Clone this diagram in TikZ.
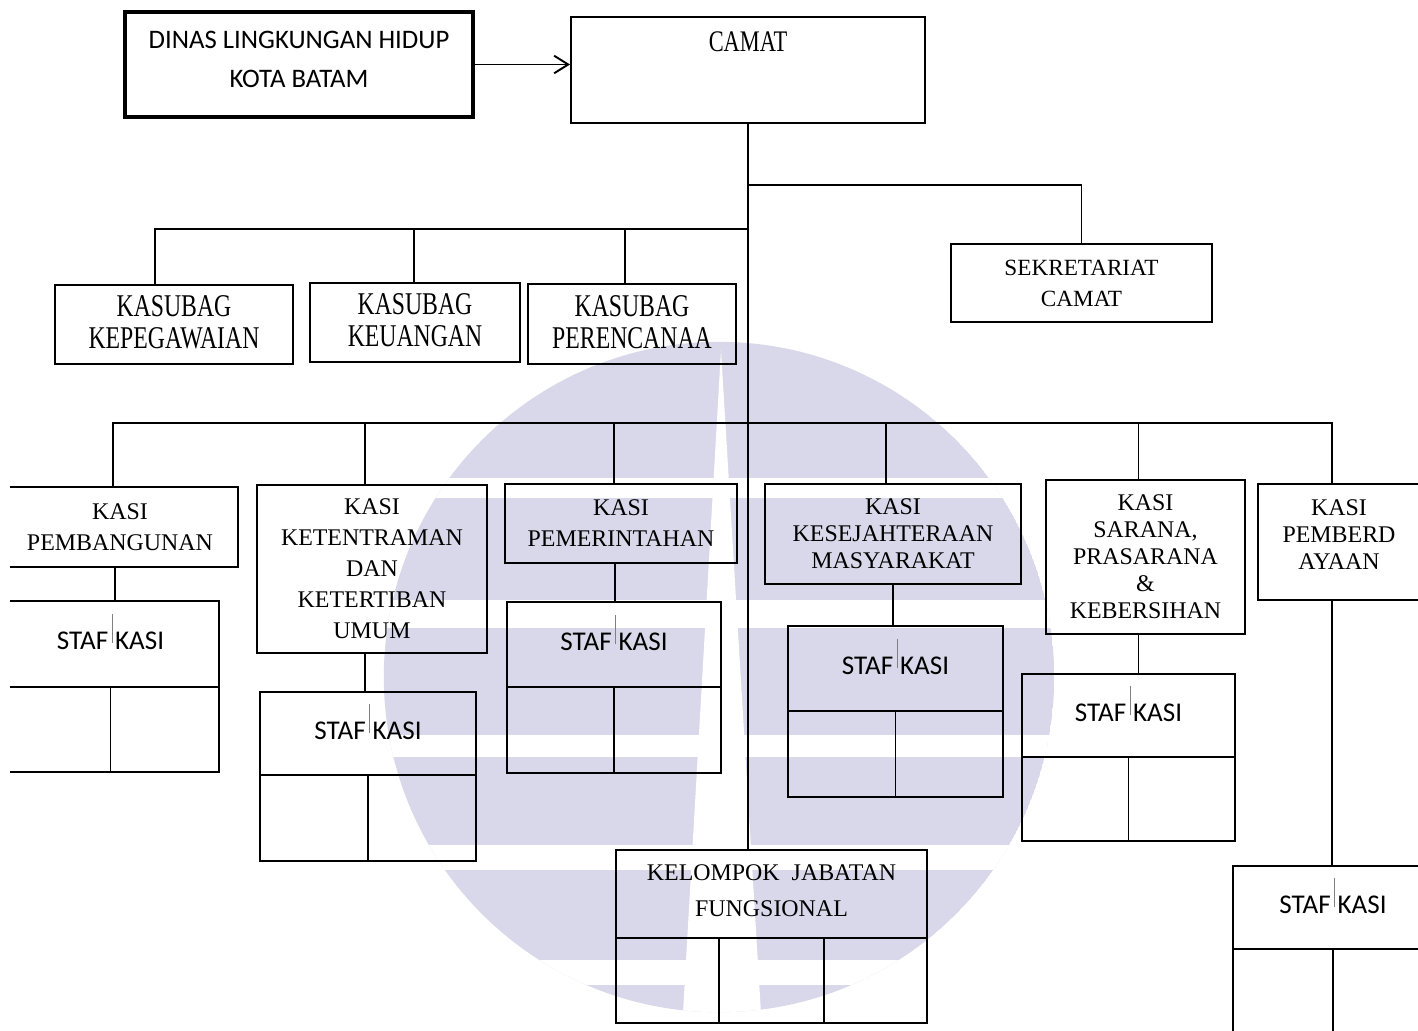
\documentclass[tikz,border=0pt]{standalone}
\usepackage{fontspec}
\setmainfont{Liberation Serif}
\newfontfamily\narrowserif[FakeStretch=0.75]{Liberation Serif}
\newfontfamily\calfont{Carlito}
\usetikzlibrary{calc,fit,arrows.meta}
\definecolor{wmlav}{RGB}{216,216,234}
\newcommand{\stafkasi}{STAF\hspace{0.12em}{\color{gray}\rule[1.9pt]{0.25pt}{8.3pt}}\hspace{0.1em}KASI}

\begin{document}
\begin{tikzpicture}[x=0.01cm,y=-0.01cm]

\tikzset{box/.style={draw, line width=0.55pt, inner sep=0pt},
  txt/.style={inner sep=0pt, align=center},
  kasitxt/.style={txt, font=\fontsize{6.8}{8.8}\selectfont},
  tighttxt/.style={txt, font=\fontsize{6.8}{7.7}\selectfont},
  subtxt/.style={txt, font=\narrowserif\fontsize{9}{9.1}\selectfont, yshift=0.55pt},
  staftxt/.style={txt, font=\calfont\fontsize{7.7}{9}\selectfont, yshift=3.4pt},
  link/.style={line width=0.55pt}}

\useasboundingbox (0,0) rectangle (1418,1030);
\clip (10,0) rectangle (1418,1030);

% watermark
\begin{scope}
\clip (719,677) circle[radius=3.35cm];
\fill[wmlav] (719,677) circle[radius=3.35cm];
\foreach \ya/\yb in {478/498, 600/628, 735/757, 845/870, 960/985}
  \fill[white] (370,\ya) rectangle (1070,\yb);
\fill[white] (721,350) -- (682,1030) -- (762,1030) -- cycle;
\end{scope}

% top
\node[box, line width=1.2pt, fit={(125,12) (473,117)}] (dinas) {};
\node[txt, font=\calfont\fontsize{7.6}{11.1}\selectfont, yshift=1.4pt] (dinastxt) at (dinas) {DINAS LINGKUNGAN HIDUP\\KOTA BATAM};
\node[box, fit={(571,17) (925,123)}] (camat) {};
\node[font=\narrowserif\fontsize{8.5}{9}\selectfont] (camattxt) at ($(camat.north)+(0,26)$) {CAMAT};
\draw[link, -{Straight Barb[length=4pt,width=5pt]}] (dinas.east) -- (dinas.east -| camat.west);

\node[box, fit={(951,244) (1212,322)}] (sekr) {};
\node[txt, font=\fontsize{6.6}{8.8}\selectfont] (sekrtxt) at (sekr) {SEKRETARIAT\\CAMAT};

% kasubag
\node[box, fit={(55,285) (293,364)}] (kepeg) {};
\node[box, fit={(310,283) (520,362)}] (keu) {};
\node[box, fit={(528,284) (736,364)}] (peren) {};
\node[subtxt] (kepegtxt) at (kepeg) {KASUBAG\\KEPEGAWAIAN};
\node[subtxt] (keutxt) at (keu) {KASUBAG\\KEUANGAN};
\node[subtxt] (perentxt) at (peren) {KASUBAG\\PERENCANAA};

% kasi
\node[box, fit={(2,487) (238,567)}] (kpemb) {};
\node[box, fit={(257,485) (487,653)}] (kketen) {};
\node[box, fit={(505,484) (737,563)}] (kpemr) {};
\node[box, fit={(765,484) (1021,584)}] (kkes) {};
\node[box, fit={(1046,480) (1245,634)}] (ksar) {};
\node[box, fit={(1258,484) (1420,600)}] (kpembd) {};
\node[kasitxt] (kpembtxt) at (kpemb) {KASI\\PEMBANGUNAN};
\node[kasitxt] (kketentxt) at (kketen) {KASI\\KETENTRAMAN\\DAN\\KETERTIBAN\\UMUM};
\node[kasitxt] (kpemrtxt) at (kpemr) {KASI\\PEMERINTAHAN};
\node[tighttxt] (kkestxt) at (kkes) {KASI\\KESEJAHTERAAN\\MASYARAKAT};
\node[tighttxt] (ksartxt) at (ksar) {KASI\\SARANA,\\PRASARANA\\\&\\KEBERSIHAN};
\node[tighttxt, yshift=2.15pt] (kpembdtxt) at (kpembd) {KASI\\PEMBERD\\AYAAN};

% staf kasi
\foreach \s/\xa/\ya/\xb/\ym/\yb in {stafa/2/601/219/687/772, stafb/260/692/476/775/861,
  stafc/507/602/721/687/773, stafd/788/626/1003/711/797,
  stafe/1022/674/1235/757/841, staff/1233/866/1433/949/1045}
{
\node[box, fit={(\xa,\ya) (\xb,\ym)}] (\s) {};
\node[staftxt] (\s txt) at (\s) {\stafkasi};
\node[box, fit={(\xa,\ym) (\xb,\yb)}] (\s low) {};
\draw[link] (\s low.north) -- (\s low.south);
}

% fungsional
\node[box, fit={(616,850) (927,938)}] (kfung) {};
\node[txt, font=\fontsize{6.8}{10.2}\selectfont, yshift=0.9pt] (kfungtxt) at (kfung) {KELOMPOK\hspace{0.5em}JABATAN\\FUNGSIONAL};
\node[box, fit={(616,938) (927,1023)}] (kfunglow) {};
\foreach \f in {1/3,2/3}
  \draw[link] ($(kfunglow.north west)!\f!(kfunglow.north east)$) -- ($(kfunglow.south west)!\f!(kfunglow.south east)$);

% lines
\coordinate (sekbus) at (748,185);
\coordinate (subbus) at (748,229);
\coordinate (kasibus) at (748,423);
\draw[link] (camat.south) -- (camat.south |- kfung.north);
\draw[link] (sekbus) -| (sekr.north);

\coordinate (t) at ($(kepeg.north)+(-19,0)$);
\draw[link] (t) |- (subbus);
\foreach \n/\dx in {keu/-1, peren/-7}
{
\coordinate (t) at ($(\n.north)+(\dx,0)$);
\draw[link] (t) -- (t |- subbus);
}

\coordinate (t) at ($(kpemb.north)+(-7,0)$);
\coordinate (u) at ($(kpembd.north)+(-7,0)$);
\draw[link] (t) -- (t |- kasibus) -- (u |- kasibus) -- (u);
\foreach \n in {kketen,kpemr,kkes,ksar}
{
\coordinate (t) at ($(\n.north)+(-7,0)$);
\draw[link] (t) -- (t |- kasibus);
}

\foreach \k/\s/\dx in {kpemb/stafa/-5, kketen/stafb/-7, kpemr/stafc/-6, kkes/stafd/0, ksar/stafe/-7, kpembd/staff/-7}
{
\coordinate (t) at ($(\k.south)+(\dx,0)$);
\draw[link] (t) -- (t |- \s.north);
}

\end{tikzpicture}
\end{document}
